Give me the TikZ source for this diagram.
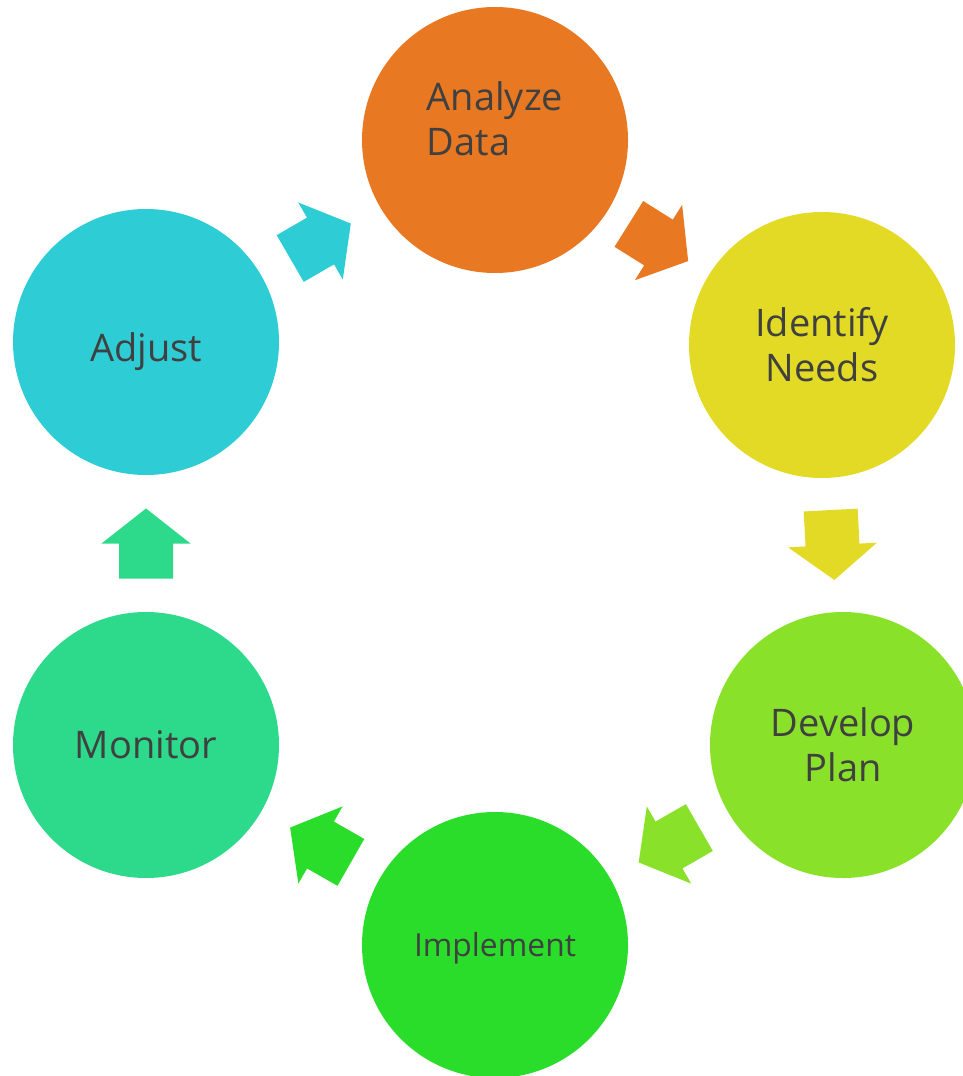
\documentclass[tikz,border=0pt]{standalone}
\usepackage{fontspec}
\setmainfont{Open Sans}
\usetikzlibrary{calc}
\definecolor{cOrange}{RGB}{232,121,34}
\definecolor{cYellow}{RGB}{226,218,36}
\definecolor{cLime}{RGB}{138,225,42}
\definecolor{cGreen}{RGB}{42,221,42}
\definecolor{cMint}{RGB}{45,217,138}
\definecolor{cCyan}{RGB}{46,204,212}
\definecolor{cText}{RGB}{64,64,64}
\tikzset{
  stage/.style={circle, fill=#1, draw=none, minimum size=266pt, inner sep=0pt},
  label38/.style={text=cText, font=\fontsize{38}{45}\selectfont, align=center},
  label30/.style={text=cText, font=\fontsize{31.8}{38}\selectfont, align=center},
}
\newcommand\flowarrow[3]{%
  \coordinate (fm) at ($(#1)!0.5!(#2)$);
  \coordinate (ft) at ($(fm)!-35pt!(#2)$);
  \coordinate (fp) at ($(fm)!35pt!(#2)$);
  \fill[#3] ($(ft)!27pt!90:(#2)$) -- ($(fm)!27pt!90:(#2)$) -- ($(fm)!44.5pt!90:(#2)$)
    -- (fp) -- ($(fm)!44.5pt!-90:(#2)$) -- ($(fm)!27pt!-90:(#2)$) -- ($(ft)!27pt!-90:(#2)$) -- cycle;
}
\begin{document}
\begin{tikzpicture}[x=1pt,y=-1pt]
\useasboundingbox (0,0) rectangle (963,1076);
\node[stage=cOrange] (analyze) at (495,140) {};
\node[stage=cYellow] (identify) at (822,345) {};
\node[stage=cLime] (develop) at (843,745) {};
\node[stage=cGreen] (implement) at (495,945) {};
\node[stage=cMint] (monitor) at (146,745) {};
\node[stage=cCyan] (adjust) at (146,342) {};
\node[label38, align=left] (tanalyze) at (495,119) {Analyze\\Data};
\node[label38] (tidentify) at (822,345) {Identify\\Needs};
\node[label38] (tdevelop) at (843,745) {Develop\\Plan};
\node[label30] (timplement) at (495,948) {Implement};
\node[label38] (tmonitor) at (146,745) {Monitor};
\node[label38] (tadjust) at (146,352) {Adjust};
\flowarrow{analyze.center}{identify.center}{cOrange}
\flowarrow{identify.center}{develop.center}{cYellow}
\flowarrow{develop.center}{implement.center}{cLime}
\flowarrow{implement.center}{monitor.center}{cGreen}
\flowarrow{monitor.center}{adjust.center}{cMint}
\flowarrow{adjust.center}{analyze.center}{cCyan}
\end{tikzpicture}
\end{document}
